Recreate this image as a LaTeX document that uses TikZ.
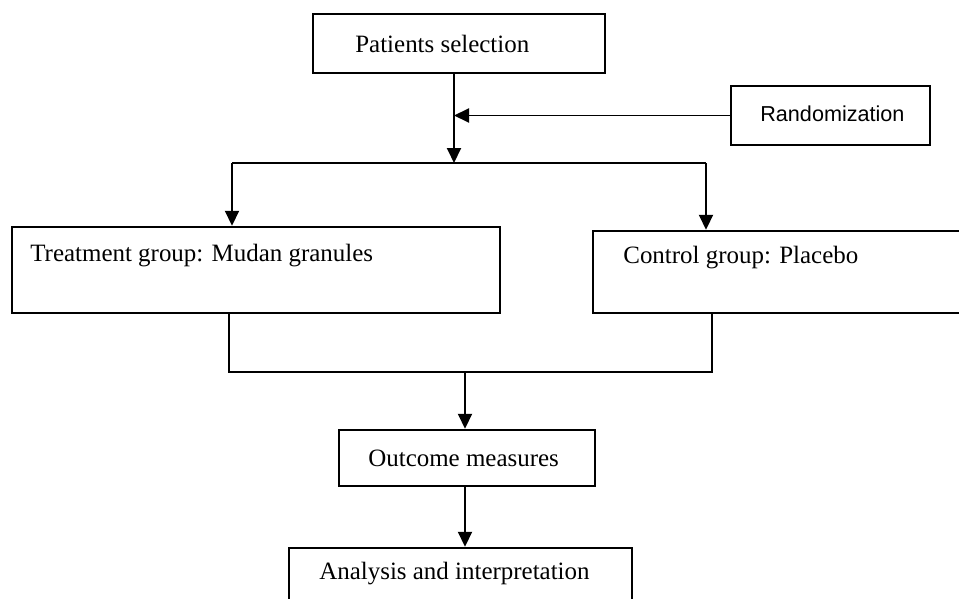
\documentclass[tikz,border=0pt]{standalone}
\usepackage{fontspec}
\setmainfont{Liberation Serif}
\newfontfamily\randfont{Liberation Sans}
\usetikzlibrary{arrows.meta, positioning, calc}

\begin{document}
\begin{tikzpicture}[
        x=0.02cm, y=-0.02cm,
        font=\fontsize{14.2}{17}\selectfont,
        box/.style={
            rectangle,
            draw=black,
            line width=1.4pt,
            inner sep=0pt
        },
        txt/.style={
            anchor=west,
            inner sep=0pt
        },
        arrow/.style={
            -{Triangle[width=0.28cm, length=0.3cm]},
            line width=1.1pt
        },
        link/.style={
            line width=1.1pt
        }
    ]

    \useasboundingbox (0,0) rectangle (959,598);
    \clip (0,0) rectangle (959,598);

    % Boxes
    \node[box, minimum width=5.84cm, minimum height=1.18cm] (pat) at (459,43.5) {};
    \node[txt] (pat_t) at (355,44) {Patients selection};

    \node[box, minimum width=3.98cm, minimum height=1.18cm] (rand) at (830.5,115.5) {};
    \node[txt, font=\randfont\fontsize{12.3}{15}\selectfont] (rand_t) at (760,114) {Randomization};

    \node[box, minimum width=9.76cm, minimum height=1.72cm] (treat) at (256,270) {};
    \node[txt] (treat_t) at (30,256) {Treatment group: Mudan granules};

    \node[box, minimum width=7.64cm, minimum height=1.64cm] (ctrl) at (784,272) {};
    \node[txt] (ctrl_t) at (623,258) {Control group: Placebo};

    \node[box, minimum width=5.12cm, minimum height=1.12cm] (outc) at (467,458) {};
    \node[txt] (outc_t) at (368,458) {Outcome measures};

    \node[box, minimum width=6.86cm, minimum height=1.24cm] (anal) at (460.5,579) {};
    \node[txt] (anal_t) at (319,574) {Analysis and interpretation};

    % Split and join points
    \coordinate (split) at (454,163);
    \coordinate (sl) at (232,163);
    \coordinate (sr) at (706,163);
    \coordinate (jl) at (229,372);
    \coordinate (jr) at (712,372);
    \coordinate (jm) at (465,372);

    % Connectors
    \draw[arrow] (pat.south -| split) -- (split);
    \draw[arrow] (rand.west) -- (rand.west -| split);
    \draw[link] (sl) -- (sr);
    \draw[arrow] (sl) -- (sl |- treat.north);
    \draw[arrow] (sr) -- (sr |- ctrl.north);
    \draw[link] (treat.south -| jl) -- (jl) -- (jr) -- (ctrl.south -| jr);
    \draw[arrow] (jm) -- (outc.north -| jm);
    \draw[arrow] (outc.south -| jm) -- (anal.north -| jm);

\end{tikzpicture}
\end{document}
